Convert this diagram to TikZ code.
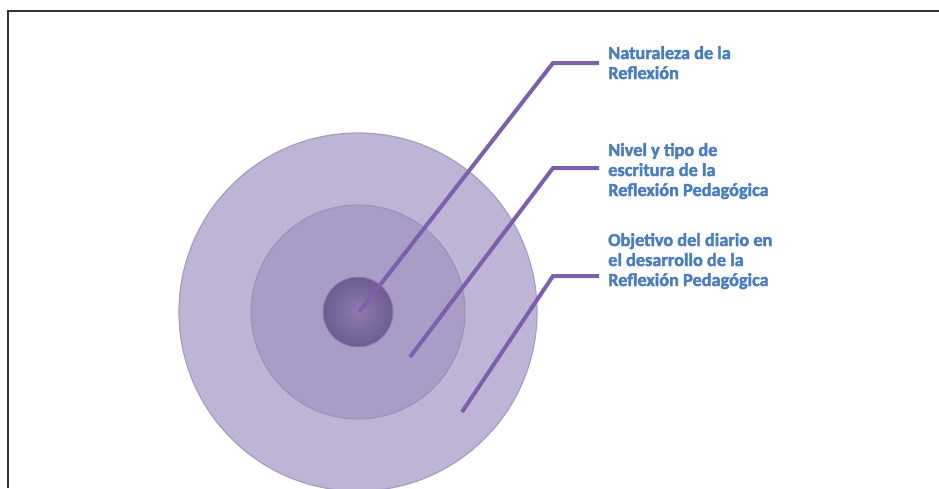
\documentclass[tikz,border=0pt]{standalone}
\usepackage{fontspec}
\setmainfont{Carlito}[BoldFeatures={FakeBold=2.2}]
\definecolor{outerc}{HTML}{BDB4D6}
\definecolor{outerrim}{HTML}{A69DBF}
\definecolor{midc}{HTML}{A99DC8}
\definecolor{midrim}{HTML}{9A92B2}
\definecolor{innc}{HTML}{7A65A2}
\definecolor{innrim}{HTML}{8C82A6}
\definecolor{leadc}{HTML}{7D5FAD}
\definecolor{txtc}{HTML}{4A7EBF}
\definecolor{framec}{HTML}{333333}
\begin{document}
\begin{tikzpicture}[x=1pt,y=-1pt,
  leader/.style={draw=leadc,line width=4pt,line join=miter},
  label/.style={anchor=base west,align=left,inner sep=0pt,text=txtc,
    font=\fontsize{18.3}{20}\selectfont\bfseries},
  ring/.style={circle,inner sep=0pt,minimum size=#1}]
\useasboundingbox (0,0) rectangle (939,488);
\draw[framec,line width=1.5pt] (8,488) -- (8,11) -- (939,11);
\begin{scope}
\clip (0,0) rectangle (939,488);
\node[ring=358pt,fill=outerc,draw=outerrim,line width=1.2pt] (outer) at (358,312) {};
\node[ring=214pt,fill=midc,draw=midrim,line width=1pt] (mid) at (358,312) {};
\node[ring=70pt,inner color=innc!85!white,outer color=innc!90!black,draw=innrim,line width=1pt] (inn) at (358,312) {};
\end{scope}
\coordinate (s1) at (359,312);
\coordinate (b1) at (553,63);
\coordinate (e1) at (599,63);
\coordinate (s2) at (410,357);
\coordinate (b2) at (553,168);
\coordinate (e2) at (599,168);
\coordinate (s3) at (462,412);
\coordinate (b3) at (553,276);
\coordinate (e3) at (599,276);
\draw[leader] (s1) -- (b1) -- (e1);
\draw[leader] (s2) -- (b2) -- (e2);
\draw[leader] (s3) -- (b3) -- (e3);
\node[label] (t1) at (608,79) {Naturaleza de la\\Reflexión};
\node[label] (t2) at (608,196) {Nivel y tipo de\\escritura de la\\Reflexión Pedagógica};
\node[label] (t3) at (608,286) {Objetivo del diario en\\el desarrollo de la\\Reflexión Pedagógica};
\end{tikzpicture}
\end{document}
